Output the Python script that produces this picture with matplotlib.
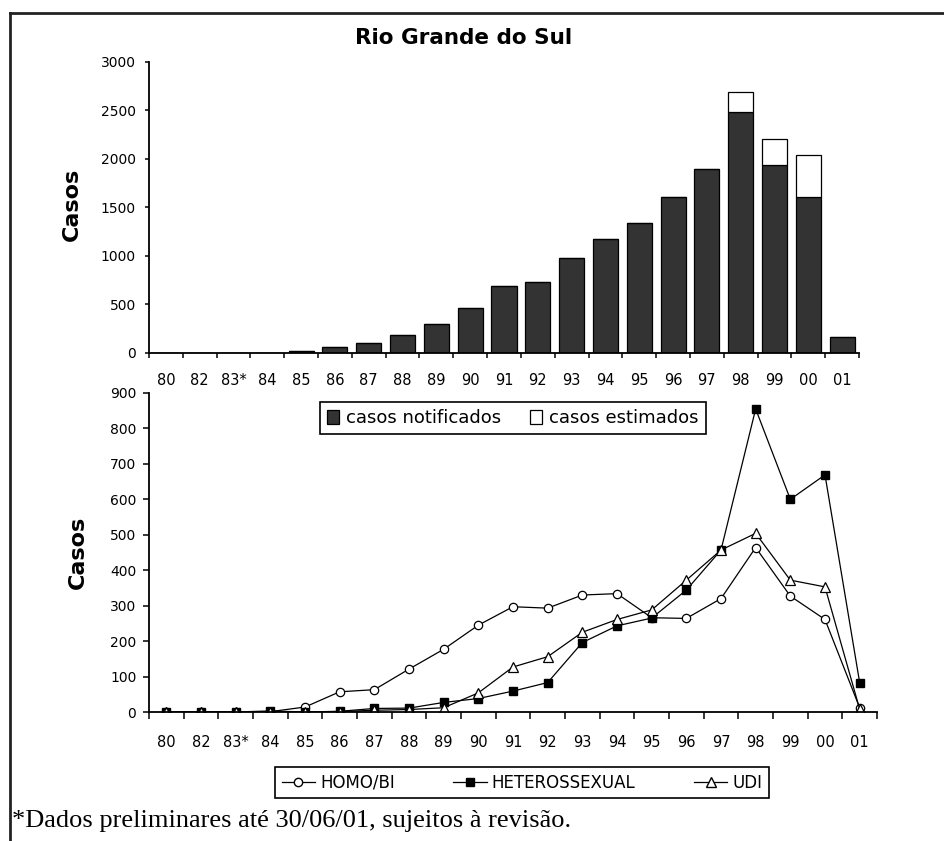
"""AIDS cases in Rio Grande do Sul: yearly bars plus exposure-category lines."""
import matplotlib
matplotlib.use("Agg")
import matplotlib.pyplot as plt
import numpy as np
from matplotlib.lines import Line2D
from matplotlib.patches import Patch

plt.rcParams["font.family"] = ["DejaVu Sans"]

years = ["80", "82", "83*", "84", "85", "86", "87", "88", "89", "90", "91",
         "92", "93", "94", "95", "96", "97", "98", "99", "00", "01"]

# reported and estimated (not yet reported) cases per year
notificados = [0, 0, 0, 2, 25, 65, 106, 189, 296, 464, 691,
               732, 983, 1172, 1337, 1612, 1900, 2488, 1938, 1612, 168]
estimados = [0, 0, 0, 0, 0, 0, 0, 0, 0, 0, 0,
             0, 0, 0, 0, 0, 0, 203, 271, 433, 0]

# cases by exposure category
homo_bi = [0, 0, 0, 1, 14, 57, 63, 121, 177, 245, 297,
           293, 330, 334, 266, 264, 320, 464, 327, 261, 12]
heterossexual = [0, 0, 0, 3, 0, 2, 10, 11, 27, 38, 59,
                 83, 196, 243, 265, 344, 457, 855, 600, 669, 83]
udi = [0, 0, 0, 0, 0, 1, 5, 7, 12, 54, 127,
       156, 225, 261, 288, 372, 457, 504, 372, 353, 8]

W, H = 945, 841
fig = plt.figure(figsize=(W / 100, H / 100), dpi=100)
fig.patch.set_facecolor("white")


def frac(x0, y_top, x1, y_bot):
    """pixel box -> figure fraction rect"""
    return [x0 / W, 1 - y_bot / H, (x1 - x0) / W, (y_bot - y_top) / H]


ax1 = fig.add_axes(frac(149, 62, 859, 353))
ax2 = fig.add_axes(frac(149, 393, 877, 712))

x = np.arange(len(years))

# top: stacked bars
ax1.bar(x, notificados, width=0.74, color="#333333", edgecolor="black", linewidth=0.9)
ax1.bar(x, estimados, width=0.74, bottom=notificados, color="white",
        edgecolor="black", linewidth=0.9)
ax1.set_ylim(0, 3000)
ax1.set_yticks(range(0, 3001, 500))

# bottom: lines
ax2.plot(x, homo_bi, color="black", linewidth=0.9, marker="o", markersize=6,
         markerfacecolor="white", markeredgecolor="black", markeredgewidth=0.9)
ax2.plot(x, heterossexual, color="black", linewidth=0.9, marker="s", markersize=6,
         markerfacecolor="black", markeredgecolor="black")
ax2.plot(x, udi, color="black", linewidth=0.9, marker="^", markersize=7,
         markerfacecolor="white", markeredgecolor="black", markeredgewidth=0.9)
ax2.set_ylim(0, 900)
ax2.set_yticks(range(0, 901, 100))

for ax, tick_len, ypad, xpad in ((ax1, 3.0, 6.5, 14.5), (ax2, 4.3, 4.8, 16.5)):
    ax.set_xlim(-0.5, len(years) - 0.5)
    ax.set_xticks(x)
    ax.set_xticklabels(years)
    ax.set_xticks(np.arange(-0.5, len(years)), minor=True)
    ax.tick_params(axis="x", which="major", length=0, pad=xpad, labelsize=10.5)
    ax.tick_params(axis="x", which="minor", length=tick_len + 0.6, width=1.1, direction="out")
    ax.tick_params(axis="y", length=tick_len, width=1.1, pad=ypad, labelsize=10)
    for side in ("top", "right"):
        ax.spines[side].set_visible(False)
    for side in ("left", "bottom"):
        ax.spines[side].set_linewidth(1.3)
    ax.set_ylabel("Casos", fontsize=16, fontweight="bold")

ax1.yaxis.set_label_coords(-0.094, 0.51)
ax2.yaxis.set_label_coords(-0.084, 0.50)

fig.text(464 / W, 1 - 38 / H, "Rio Grande do Sul", ha="center", va="center",
         fontsize=15.5, fontweight="bold")

# legend for the bars
bar_handles = [
    Patch(facecolor="#333333", edgecolor="black", linewidth=0.9, label="casos notificados"),
    Patch(facecolor="white", edgecolor="black", linewidth=0.9, label="casos estimados"),
]
leg1 = fig.legend(handles=bar_handles, ncol=2, mode="expand",
                  bbox_to_anchor=frac(320, 400, 706, 436), loc="center",
                  fontsize=13, handlelength=0.65, handleheight=0.85, handletextpad=0.4,
                  borderaxespad=0, fancybox=False, framealpha=1, edgecolor="black")
leg1.get_frame().set_linewidth(1.2)

# legend for the lines
line_handles = [
    Line2D([], [], color="black", linewidth=0.9, marker="o", markersize=6,
           markerfacecolor="white", label="HOMO/BI"),
    Line2D([], [], color="black", linewidth=0.9, marker="s", markersize=6,
           markerfacecolor="black", label="HETEROSSEXUAL"),
    Line2D([], [], color="black", linewidth=0.9, marker="^", markersize=7,
           markerfacecolor="white", label="UDI"),
]
leg2 = fig.legend(handles=line_handles, ncol=3, mode="expand",
                  bbox_to_anchor=frac(275, 768, 769, 797), loc="center",
                  fontsize=12, handlelength=2.0, handletextpad=0.3,
                  borderaxespad=0, fancybox=False, framealpha=1, edgecolor="black")
leg2.get_frame().set_linewidth(1.2)

fig.text(12 / W, 1 - 821 / H, "*Dados preliminares até 30/06/01, sujeitos à revisão.",
         ha="left", va="center", fontsize=19, family=["Liberation Serif"])

# frame lines along the top and left edge
fig.add_artist(Line2D([10 / W, 1], [1 - 13 / H, 1 - 13 / H], color="#222222", linewidth=2))
fig.add_artist(Line2D([10 / W, 10 / W], [1 - 13 / H, 0], color="#222222", linewidth=2))

fig.savefig("out.png", dpi=100, facecolor="white")
